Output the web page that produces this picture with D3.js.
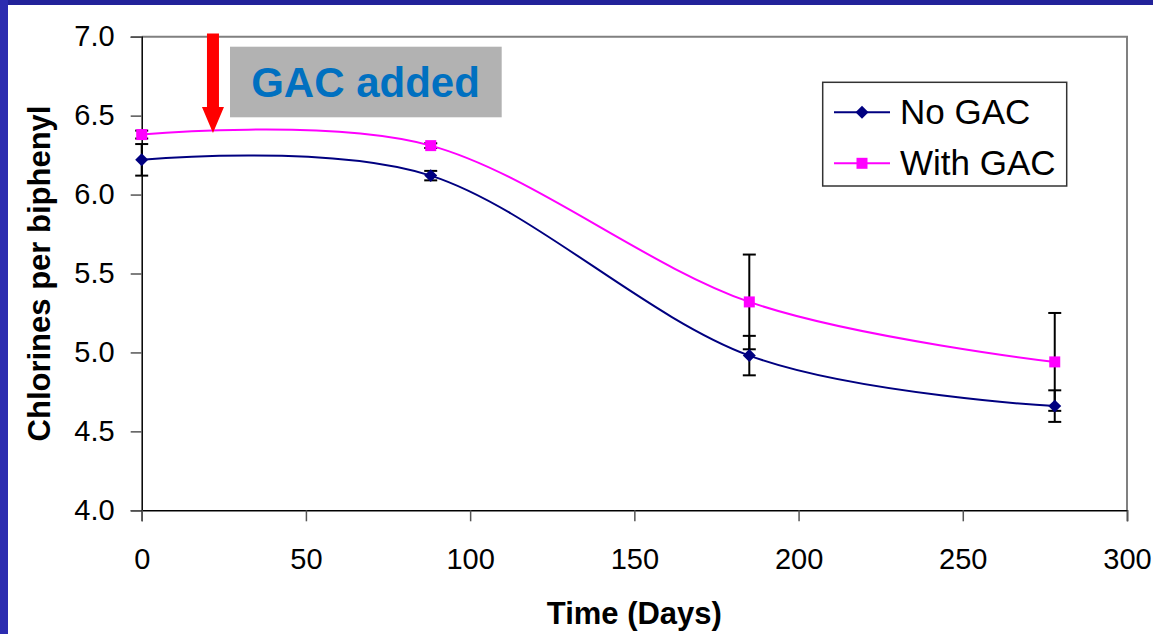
<!DOCTYPE html>
<html>
<head>
<meta charset="utf-8">
<script src="https://cdn.jsdelivr.net/npm/d3@7"></script>
<style>
  body { margin: 0; background: #fff; }
  svg text { font-family: "Liberation Sans", Arial, sans-serif; fill: #000; }
</style>
</head>
<body>
<div id="chart"></div>
<script>
// data
var days = [0, 88, 185, 278];
var noGac = [6.22, 6.12, 4.98, 4.66];
var noGacErr = [0.10, 0.03, 0.125, 0.10];
var withGac = [6.38, 6.31, 5.32, 4.94];
var withGacErr = [0.025, 0.015, 0.30, 0.31];
var xTicks = [0, 50, 100, 150, 200, 250, 300];
var yTicks = [4.0, 4.5, 5.0, 5.5, 6.0, 6.5, 7.0];
var seriesNames = ["No GAC", "With GAC"];

var W = 1153, H = 634;

var svg = d3.select("#chart").append("svg")
    .attr("width", W)
    .attr("height", H);

// slide frame
svg.append("rect").attr("x", 0).attr("y", 0).attr("width", W).attr("height", 5).attr("fill", "#22229a");
svg.append("rect").attr("x", 0).attr("y", 0).attr("width", 8).attr("height", H).attr("fill", "#2c2cb0");

var x = d3.scaleLinear().domain([0, 300]).range([141.7, 1127]);
var y = d3.scaleLinear().domain([4, 7]).range([510.3, 36.7]);

// plot frame (top + right in grey)
svg.append("path")
    .attr("d", "M" + x(0) + "," + y(7) + "H" + x(300) + "V" + y(4))
    .attr("fill", "none")
    .attr("stroke", "#808080")
    .attr("stroke-width", 2);

var yAxis = d3.axisLeft(y)
    .tickValues(yTicks)
    .tickSize(11)
    .tickPadding(16)
    .tickFormat(d3.format(".1f"));

var xAxis = d3.axisBottom(x)
    .tickValues(xTicks)
    .tickSize(11)
    .tickPadding(27)
    .tickFormat(d3.format("d"));

var yG = svg.append("g")
    .attr("transform", "translate(" + x(0) + ",0)")
    .call(yAxis);

var xG = svg.append("g")
    .attr("transform", "translate(0," + y(4) + ")")
    .call(xAxis);

[yG, xG].forEach(function(g) {
    g.select(".domain").attr("stroke", "#000").attr("stroke-width", 1.5);
    g.selectAll(".tick line").attr("stroke", "#555").attr("stroke-width", 1.5);
    g.selectAll(".tick text")
        .attr("font-size", 29)
        .attr("fill", "#000")
        .attr("font-family", "Liberation Sans, Arial, sans-serif");
});

// axis titles
svg.append("text")
    .attr("x", (x(0) + x(300)) / 2)
    .attr("y", 624)
    .attr("text-anchor", "middle")
    .attr("font-size", 31)
    .attr("font-weight", "bold")
    .text("Time (Days)");

svg.append("text")
    .attr("transform", "translate(49.5," + (y(4) + y(7)) / 2 + ") rotate(-90)")
    .attr("text-anchor", "middle")
    .attr("font-size", 31)
    .attr("font-weight", "bold")
    .text("Chlorines per biphenyl");

var line = d3.line()
    .x(function(d) { return x(d[0]); })
    .y(function(d) { return y(d[1]); })
    .curve(d3.curveCardinal.tension(0));

var series = [
    { name: seriesNames[0], vals: noGac, err: noGacErr, color: "#000080", symbol: "diamond" },
    { name: seriesNames[1], vals: withGac, err: withGacErr, color: "#ff00ff", symbol: "square" }
];

var capW = 6.5;

// error bars first, lines & markers on top
series.forEach(function(s) {
    var g = svg.append("g");
    days.forEach(function(d, i) {
        var lo = y(s.vals[i] - s.err[i]), hi = y(s.vals[i] + s.err[i]), cx = x(d);
        g.append("line").attr("x1", cx).attr("x2", cx).attr("y1", lo).attr("y2", hi)
            .attr("stroke", "#000").attr("stroke-width", 2);
        g.append("line").attr("x1", cx - capW).attr("x2", cx + capW).attr("y1", lo).attr("y2", lo)
            .attr("stroke", "#000").attr("stroke-width", 2);
        g.append("line").attr("x1", cx - capW).attr("x2", cx + capW).attr("y1", hi).attr("y2", hi)
            .attr("stroke", "#000").attr("stroke-width", 2);
    });
});

function marker(g, s, cx, cy) {
    if (s.symbol == "diamond") {
        g.append("path")
            .attr("d", d3.symbol(d3.symbolSquare, 84)())
            .attr("transform", "translate(" + cx + "," + cy + ") rotate(45)")
            .attr("fill", s.color);
    } else {
        g.append("path")
            .attr("d", d3.symbol(d3.symbolSquare, 121)())
            .attr("transform", "translate(" + cx + "," + cy + ")")
            .attr("fill", s.color);
    }
}

series.forEach(function(s) {
    var pts = days.map(function(d, i) { return [d, s.vals[i]]; });
    svg.append("path")
        .attr("d", line(pts))
        .attr("fill", "none")
        .attr("stroke", s.color)
        .attr("stroke-width", 2);
    var g = svg.append("g");
    pts.forEach(function(p) { marker(g, s, x(p[0]), y(p[1])); });
});

// "GAC added" annotation
var arrowDay = 21.7;
var ax = x(arrowDay);
svg.append("path")
    .attr("d", "M" + (ax - 6) + "," + y(7.02) + "H" + (ax + 6) + "V" + 107 +
        "H" + (ax + 11) + "L" + ax + "," + 133 + "L" + (ax - 11) + "," + 107 + "H" + (ax - 6) + "Z")
    .attr("fill", "#ff0000");

svg.append("rect")
    .attr("x", 230).attr("y", 46.7)
    .attr("width", 271.7).attr("height", 70.6)
    .attr("fill", "#b2b2b2");

svg.append("text")
    .attr("x", 365.5).attr("y", 97)
    .attr("text-anchor", "middle")
    .attr("font-size", 42)
    .attr("font-weight", "bold")
    .style("fill", "#0070c0")
    .text("GAC added");

// legend
var leg = svg.append("g");
leg.append("rect")
    .attr("x", 822.7).attr("y", 82.3)
    .attr("width", 244).attr("height", 103.7)
    .attr("fill", "#fff")
    .attr("stroke", "#333")
    .attr("stroke-width", 1.5);

var legRows = [112.3, 163.3];
series.forEach(function(s, i) {
    var ly = legRows[i];
    leg.append("line")
        .attr("x1", 834).attr("x2", 890)
        .attr("y1", ly).attr("y2", ly)
        .attr("stroke", s.color).attr("stroke-width", 2);
    marker(leg, s, 862, ly);
    leg.append("text")
        .attr("x", 900).attr("y", ly + 11.5)
        .attr("font-size", 35)
        .text(s.name);
});
</script>
</body>
</html>
